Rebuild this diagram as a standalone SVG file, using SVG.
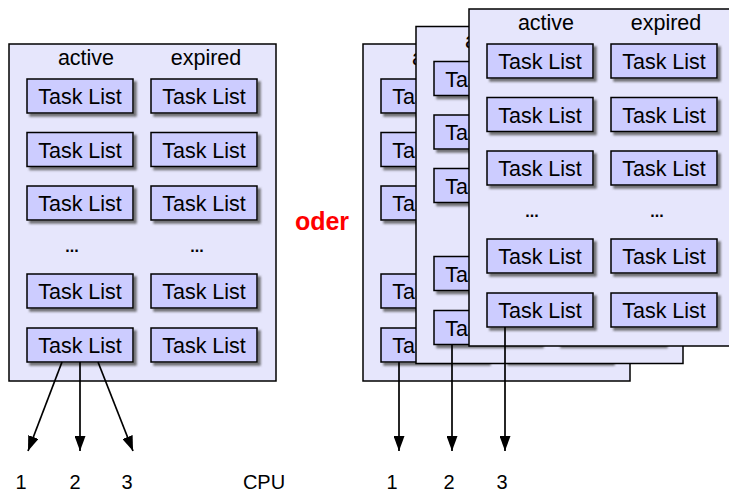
<svg xmlns="http://www.w3.org/2000/svg" width="729" height="494" viewBox="0 0 729 494">
<style>
.panel{fill:#e6e6fc;stroke:#000;stroke-width:1.5}
.box{fill:#ccccff;stroke:#000;stroke-width:1.5;filter:url(#sh)}
.t{font-family:"Liberation Sans",Arial,sans-serif;font-size:21.5px;fill:#000;text-anchor:middle}
.n{font-family:"Liberation Sans",Arial,sans-serif;font-size:20px;fill:#000;text-anchor:middle}
.dots{font-family:"Liberation Sans",Arial,sans-serif;font-size:16px;font-weight:bold;fill:#000;text-anchor:middle}
.oder{font-family:"Liberation Sans",Arial,sans-serif;font-size:25px;font-weight:bold;fill:#ff0000;text-anchor:middle}
.conn line{stroke:#000;stroke-width:1.7;marker-end:url(#ah)}
</style>
<defs>
<filter id="sh" x="-10%" y="-20%" width="130%" height="160%">
<feDropShadow dx="3" dy="3" stdDeviation="1" flood-color="#555" flood-opacity="0.8"/>
</filter>
<marker id="ah" markerUnits="userSpaceOnUse" markerWidth="15" markerHeight="11" refX="15" refY="5.5" orient="auto" viewBox="0 0 15 11">
<path d="M0,0 L15,5.5 L0,11 z" fill="#000"/>
</marker>
</defs>
<rect width="729" height="494" fill="#fff"/>

<g id="panel-left" transform="translate(9,44)">
<rect class="panel" x="0" y="0" width="267" height="337"/>
<text class="t" x="77" y="21">active</text>
<text class="t" x="197" y="21">expired</text>
<rect class="box" x="18" y="35" width="106" height="34"/><text class="t" x="71" y="60">Task List</text>
<rect class="box" x="142" y="35" width="106" height="34"/><text class="t" x="195" y="60">Task List</text>
<rect class="box" x="18" y="88.5" width="106" height="34"/><text class="t" x="71" y="113.5">Task List</text>
<rect class="box" x="142" y="88.5" width="106" height="34"/><text class="t" x="195" y="113.5">Task List</text>
<rect class="box" x="18" y="142" width="106" height="34"/><text class="t" x="71" y="167">Task List</text>
<rect class="box" x="142" y="142" width="106" height="34"/><text class="t" x="195" y="167">Task List</text>
<text class="dots" x="63" y="208">...</text>
<text class="dots" x="188" y="208">...</text>
<rect class="box" x="18" y="230" width="106" height="34"/><text class="t" x="71" y="255">Task List</text>
<rect class="box" x="142" y="230" width="106" height="34"/><text class="t" x="195" y="255">Task List</text>
<rect class="box" x="18" y="284" width="106" height="34"/><text class="t" x="71" y="309">Task List</text>
<rect class="box" x="142" y="284" width="106" height="34"/><text class="t" x="195" y="309">Task List</text>
</g>

<g id="panel-back" transform="translate(363,44)">
<rect class="panel" x="0" y="0" width="267" height="337"/>
<text class="t" x="77" y="21">active</text>
<rect class="box" x="18" y="35" width="106" height="34"/><text class="t" x="71" y="60">Task List</text>
<rect class="box" x="142" y="35" width="106" height="34"/>
<rect class="box" x="18" y="88.5" width="106" height="34"/><text class="t" x="71" y="113.5">Task List</text>
<rect class="box" x="142" y="88.5" width="106" height="34"/>
<rect class="box" x="18" y="142" width="106" height="34"/><text class="t" x="71" y="167">Task List</text>
<rect class="box" x="142" y="142" width="106" height="34"/>
<rect class="box" x="18" y="230" width="106" height="34"/><text class="t" x="71" y="255">Task List</text>
<rect class="box" x="142" y="230" width="106" height="34"/>
<rect class="box" x="18" y="284" width="106" height="34"/><text class="t" x="71" y="309">Task List</text>
<rect class="box" x="142" y="284" width="106" height="34"/>
</g>

<g id="panel-middle" transform="translate(416,26.5)">
<rect class="panel" x="0" y="0" width="267" height="337"/>
<text class="t" x="77" y="21">active</text>
<rect class="box" x="18" y="35" width="106" height="34"/><text class="t" x="71" y="60">Task List</text>
<rect class="box" x="142" y="35" width="106" height="34"/>
<rect class="box" x="18" y="88.5" width="106" height="34"/><text class="t" x="71" y="113.5">Task List</text>
<rect class="box" x="142" y="88.5" width="106" height="34"/>
<rect class="box" x="18" y="142" width="106" height="34"/><text class="t" x="71" y="167">Task List</text>
<rect class="box" x="142" y="142" width="106" height="34"/>
<rect class="box" x="18" y="230" width="106" height="34"/><text class="t" x="71" y="255">Task List</text>
<rect class="box" x="142" y="230" width="106" height="34"/>
<rect class="box" x="18" y="284" width="106" height="34"/><text class="t" x="71" y="309">Task List</text>
<rect class="box" x="142" y="284" width="106" height="34"/>
</g>

<g id="panel-front" transform="translate(469,9)">
<rect class="panel" x="0" y="0" width="267" height="337"/>
<text class="t" x="77" y="21">active</text>
<text class="t" x="197" y="21">expired</text>
<rect class="box" x="18" y="35" width="106" height="34"/><text class="t" x="71" y="60">Task List</text>
<rect class="box" x="142" y="35" width="106" height="34"/><text class="t" x="195" y="60">Task List</text>
<rect class="box" x="18" y="88.5" width="106" height="34"/><text class="t" x="71" y="113.5">Task List</text>
<rect class="box" x="142" y="88.5" width="106" height="34"/><text class="t" x="195" y="113.5">Task List</text>
<rect class="box" x="18" y="142" width="106" height="34"/><text class="t" x="71" y="167">Task List</text>
<rect class="box" x="142" y="142" width="106" height="34"/><text class="t" x="195" y="167">Task List</text>
<text class="dots" x="63" y="208">...</text>
<text class="dots" x="188" y="208">...</text>
<rect class="box" x="18" y="230" width="106" height="34"/><text class="t" x="71" y="255">Task List</text>
<rect class="box" x="142" y="230" width="106" height="34"/><text class="t" x="195" y="255">Task List</text>
<rect class="box" x="18" y="284" width="106" height="34"/><text class="t" x="71" y="309">Task List</text>
<rect class="box" x="142" y="284" width="106" height="34"/><text class="t" x="195" y="309">Task List</text>
</g>

<g id="connectors" class="conn">
<line x1="62" y1="362" x2="28" y2="451"/>
<line x1="80" y1="362" x2="80" y2="451"/>
<line x1="98" y1="362" x2="133" y2="451"/>
<line x1="399" y1="362" x2="399" y2="451"/>
<line x1="452" y1="344.5" x2="452" y2="451"/>
<line x1="505" y1="327" x2="505" y2="451"/>
</g>

<g id="labels">
<text class="oder" x="322" y="230">oder</text>
<text class="n" x="21" y="489">1</text>
<text class="n" x="75" y="489">2</text>
<text class="n" x="127" y="489">3</text>
<text class="n" x="264" y="489">CPU</text>
<text class="n" x="392" y="489">1</text>
<text class="n" x="449" y="489">2</text>
<text class="n" x="502" y="489">3</text>
</g>
</svg>
